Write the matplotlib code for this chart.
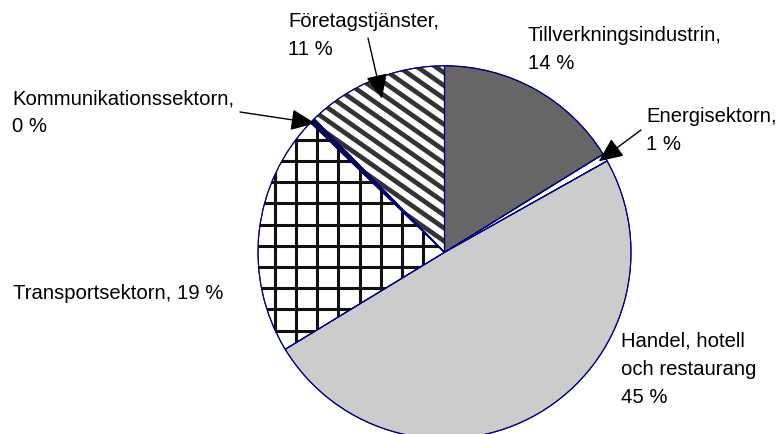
import numpy as np
import matplotlib.pyplot as plt
from matplotlib.patches import Wedge

plt.rcParams['font.family'] = ['Liberation Sans', 'DejaVu Sans']

# sectors, clockwise from 12 o'clock
names = ['Tillverkningsindustrin,', 'Energisektorn,', 'Handel, hotell\noch restaurang',
         'Transportsektorn,', 'Kommunikationssektorn,', 'Företagstjänster,']
seps = ['\n', '\n', '\n', ' ', '\n', '\n']
pct = [14, 1, 45, 19, 0, 11]
# slice sizes as drawn
shares = [14.6, 0.6, 44.6, 18.9, 0.4, 11.1]
fills = ['#666666', 'white', '#cccccc', 'white', '#101030', 'white']

W, H = 778, 434
def px(x, y):
    # picture pixel -> data coords
    return (x, H - y)

cx, cy = px(444.5, 252.3)
R = 186.5
LINE = 27.3  # px between text baselines

fig = plt.figure(figsize=(W / 100, H / 100), dpi=100)
ax = fig.add_axes([0, 0, 1, 1])
wedges, _ = ax.pie(shares, colors=fills, startangle=90, counterclock=False,
                   center=(cx, cy), radius=R,
                   wedgeprops=dict(edgecolor='#000080', linewidth=0.8))

# grid pattern for Transportsektorn
w = wedges[3]
for k in range(-12, 12):
    ln, = ax.plot([cx + k * 21.2] * 2, [cy - R, cy + R], color='#111111', lw=2.2, zorder=2)
    ln.set_clip_path(w)
    ln, = ax.plot([cx - R, cx + R], [H - 245.7 - k * 21.2] * 2, color='#111111', lw=2.2, zorder=2)
    ln.set_clip_path(w)

# diagonal stripes for Företagstjänster
w = wedges[5]
slope = 0.7
for k in range(-50, 50):
    c = -121.6 + k * 18.5 * slope
    xs = np.array([cx - R, cx + R])
    ln, = ax.plot(xs, H - (slope * xs + c), color='#333333', lw=3.4,
                  solid_capstyle='butt', zorder=2)
    ln.set_clip_path(w)

# outlines on top of the patterns
for w in wedges:
    ax.add_patch(Wedge((cx, cy), R, w.theta1, w.theta2, fill=False,
                       edgecolor='#000080', lw=0.8, zorder=3))

labels = [n + s + f'{p} %' for n, s, p in zip(names, seps, pct)]
# first-line baselines
label_pos = [(528, 42), (646, 123), (621, 348), (13, 299), (12, 105), (288, 27.7)]
for lab, (x, y) in zip(labels, label_pos):
    n = lab.count('\n')
    ax.text(*px(x, y + n * LINE), lab, fontsize=14.6, ha='left', va='baseline',
            linespacing=1.6)

# arrows: tail in label area, head on the slice
arrows = {1: ((641, 130), 0.96), 4: ((240, 112), 0.98), 5: ((368, 38), 0.89)}
for i, (tail, rf) in arrows.items():
    w = wedges[i]
    a = np.radians((w.theta1 + w.theta2) / 2)
    tip = (cx + rf * R * np.cos(a), cy + rf * R * np.sin(a))
    ax.annotate('', xy=tip, xytext=px(*tail), zorder=4,
                arrowprops=dict(arrowstyle='-|>,head_length=0.75,head_width=0.33',
                                mutation_scale=20, color='black', lw=1,
                                shrinkA=0, shrinkB=0))

ax.set_xlim(0, W)
ax.set_ylim(0, H)
ax.set_aspect('equal')
ax.axis('off')
fig.savefig('out.png', dpi=100)
